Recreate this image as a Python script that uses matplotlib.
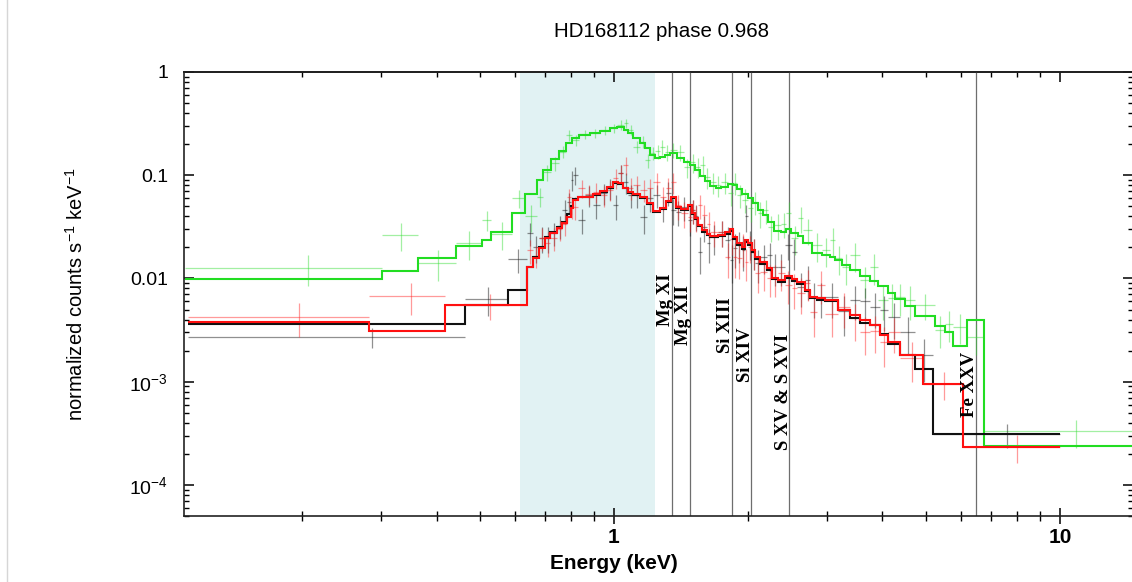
import matplotlib.pyplot as plt
import numpy as np
from matplotlib.lines import Line2D
from matplotlib.ticker import FixedLocator, FixedFormatter, LogLocator, NullFormatter
from matplotlib.transforms import offset_copy

plt.rcParams['font.family'] = ['Liberation Sans', 'DejaVu Sans']
plt.rcParams['mathtext.fontset'] = 'custom'
plt.rcParams['mathtext.rm'] = 'Liberation Sans'
plt.rcParams['mathtext.it'] = 'Liberation Sans:italic'
plt.rcParams['mathtext.bf'] = 'Liberation Sans:bold'

# green spectrum: bin edges (keV), model, data, 1-sigma error
g_edges = [0.109, 0.302, 0.363, 0.442, 0.506, 0.530, 0.590, 0.632, 0.672, 0.693,
           0.722, 0.753, 0.781, 0.805, 0.835, 0.884, 0.930, 0.979, 1.016, 1.053,
           1.075, 1.103, 1.144, 1.174, 1.204, 1.236, 1.268, 1.301, 1.335, 1.384,
           1.435, 1.48, 1.52, 1.56, 1.60, 1.64, 1.69, 1.74, 1.80, 1.85,
           1.89, 1.94, 2.00, 2.05, 2.10, 2.16, 2.22, 2.29, 2.37, 2.43,
           2.50, 2.58, 2.66, 2.78, 2.93, 3.05, 3.13, 3.25, 3.38, 3.56,
           3.75, 3.91, 4.12, 4.27, 4.49, 4.73, 5.25, 5.52, 5.76, 6.19,
           6.75, 15.0]
g_model = [0.0099, 0.0118, 0.0158, 0.0206, 0.0236, 0.0282, 0.0430, 0.0658, 0.0898, 0.112,
           0.144, 0.172, 0.205, 0.229, 0.245, 0.256, 0.268, 0.287, 0.293, 0.274,
           0.256, 0.229, 0.205, 0.184, 0.157, 0.147, 0.150, 0.157, 0.164, 0.147,
           0.134, 0.126, 0.112, 0.098, 0.088, 0.079, 0.075, 0.077, 0.082, 0.080,
           0.0735, 0.0658, 0.060, 0.054, 0.046, 0.041, 0.035, 0.0288, 0.0282, 0.0301,
           0.0275, 0.0258, 0.0220, 0.0176, 0.0169, 0.0161, 0.0151, 0.0135, 0.0121, 0.0105,
           0.0094, 0.0084, 0.0072, 0.0063, 0.0054, 0.0043, 0.0035, 0.0030, 0.0022, 0.0040,
           0.00024]
g_data = [0.0126, 0.0263, 0.0141, 0.0220, 0.037, 0.027, 0.060, 0.040, 0.062, 0.107,
          0.131, 0.168, 0.245, 0.219, 0.250, 0.256, 0.274, 0.287, 0.307, 0.320,
          0.274, 0.188, 0.210, 0.140, 0.164, 0.170, 0.188, 0.168, 0.176, 0.168,
          0.120, 0.134, 0.120, 0.126, 0.096, 0.086, 0.080, 0.086, 0.067, 0.084,
          0.064, 0.058, 0.048, 0.055, 0.043, 0.046, 0.0315, 0.033, 0.034, 0.043,
          0.0245, 0.0385, 0.0294, 0.021, 0.0188, 0.0236, 0.0158, 0.0129, 0.0168, 0.0097,
          0.0129, 0.0062, 0.0065, 0.0066, 0.0062, 0.0055, 0.0032, 0.0036, 0.0034, 0.0027,
          0.00033]
g_err = [0.0042, 0.008, 0.0046, 0.0068, 0.008, 0.008, 0.012, 0.012, 0.013, 0.02,
         0.02, 0.022, 0.03, 0.025, 0.025, 0.025, 0.028, 0.03, 0.032, 0.034,
         0.03, 0.025, 0.028, 0.022, 0.025, 0.026, 0.03, 0.03, 0.03, 0.03,
         0.025, 0.028, 0.026, 0.028, 0.022, 0.02, 0.019, 0.02, 0.017, 0.02,
         0.016, 0.015, 0.013, 0.014, 0.012, 0.012, 0.009, 0.0095, 0.0095, 0.012,
         0.0075, 0.011, 0.0085, 0.0065, 0.006, 0.007, 0.005, 0.0042, 0.0052, 0.0033,
         0.0042, 0.0022, 0.0023, 0.0023, 0.0022, 0.0015, 0.0011, 0.0012, 0.0011, 0.0009,
         0.0001]

# red spectrum
r_edges = [0.111, 0.282, 0.418, 0.638, 0.658, 0.679, 0.700, 0.719, 0.745, 0.765,
           0.785, 0.801, 0.809, 0.830, 0.862, 0.897, 0.930, 0.965, 0.995, 1.021,
           1.048, 1.075, 1.103, 1.144, 1.186, 1.223, 1.268, 1.308, 1.342, 1.377,
           1.413, 1.465, 1.496, 1.519, 1.543, 1.575, 1.616, 1.642, 1.711, 1.774,
           1.820, 1.849, 1.887, 1.936, 1.967, 1.997, 2.039, 2.071, 2.125, 2.203,
           2.261, 2.332, 2.417, 2.506, 2.572, 2.681, 2.751, 2.852, 2.973, 3.178,
           3.382, 3.561, 3.750, 3.948, 4.115, 4.378, 4.928, 6.061, 10.0]
r_model = [0.00378, 0.00309, 0.00553, 0.0129, 0.0158, 0.0197, 0.0246, 0.0275, 0.0308, 0.0344,
           0.0394, 0.0481, 0.0575, 0.0615, 0.0615, 0.0657, 0.0703, 0.0769, 0.0859, 0.0840,
           0.0752, 0.0687, 0.0657, 0.0615, 0.0538, 0.0450, 0.0481, 0.0562, 0.0615, 0.0492,
           0.0470, 0.0514, 0.0430, 0.0385, 0.0329, 0.0294, 0.0269, 0.0258, 0.0263, 0.0282,
           0.0301, 0.0252, 0.0220, 0.0201, 0.0236, 0.0220, 0.0188, 0.0161, 0.0144, 0.0126,
           0.0101, 0.00965, 0.01055, 0.00987, 0.00923, 0.00772, 0.00660, 0.00646, 0.00618, 0.00494,
           0.00442, 0.00395, 0.00354, 0.00283, 0.00242, 0.00181, 0.000948, 0.000232]
r_data = [0.00423, 0.00675, 0.00553, 0.0188, 0.0165, 0.0246, 0.022, 0.0246, 0.030, 0.034,
          0.0615, 0.050, 0.049, 0.075, 0.066, 0.0687, 0.064, 0.072, 0.094, 0.105,
          0.126, 0.075, 0.080, 0.072, 0.075, 0.086, 0.0615, 0.076, 0.086, 0.051,
          0.043, 0.039, 0.046, 0.039, 0.051, 0.041, 0.034, 0.028, 0.028, 0.0161,
          0.024, 0.0161, 0.0158, 0.020, 0.0144, 0.020, 0.018, 0.0113, 0.0115, 0.0101,
          0.0101, 0.0113, 0.0087, 0.0081, 0.0073, 0.0090, 0.0047, 0.0087, 0.0045, 0.0053,
          0.0041, 0.0030, 0.0031, 0.0024, 0.0030, 0.0017, 0.00095, 0.000232]
r_err = [0.0015, 0.0023, 0.0016, 0.005, 0.004, 0.006, 0.006, 0.006, 0.007, 0.008,
         0.012, 0.012, 0.012, 0.015, 0.014, 0.015, 0.015, 0.016, 0.02, 0.022,
         0.025, 0.018, 0.018, 0.017, 0.017, 0.02, 0.016, 0.018, 0.02, 0.014,
         0.012, 0.011, 0.012, 0.011, 0.013, 0.011, 0.01, 0.008, 0.008, 0.006,
         0.007, 0.006, 0.006, 0.007, 0.005, 0.006, 0.006, 0.004, 0.004, 0.0035,
         0.0035, 0.0038, 0.003, 0.003, 0.0028, 0.003, 0.002, 0.003, 0.0018, 0.002,
         0.0016, 0.0012, 0.0012, 0.001, 0.0011, 0.0007, 0.00028, 0.00007]

# black spectrum
b_edges = [0.111, 0.463, 0.578, 0.638, 0.658, 0.679, 0.700, 0.719, 0.745, 0.765,
           0.785, 0.801, 0.809, 0.830, 0.862, 0.897, 0.930, 0.965, 0.995, 1.021,
           1.048, 1.075, 1.103, 1.144, 1.186, 1.223, 1.268, 1.308, 1.342, 1.377,
           1.413, 1.465, 1.496, 1.519, 1.543, 1.575, 1.616, 1.642, 1.711, 1.774,
           1.820, 1.849, 1.887, 1.936, 1.967, 1.997, 2.039, 2.071, 2.125, 2.203,
           2.261, 2.332, 2.417, 2.506, 2.572, 2.681, 2.751, 2.852, 2.973, 3.178,
           3.382, 3.561, 3.750, 3.948, 4.115, 4.378, 4.730, 5.190, 10.0]
b_model = [0.00365, 0.00553, 0.00772, 0.0130, 0.0160, 0.0200, 0.0250, 0.0280, 0.0315, 0.0350,
           0.0420, 0.0500, 0.0585, 0.0620, 0.0610, 0.0650, 0.0695, 0.0760, 0.0850, 0.0830,
           0.0745, 0.0680, 0.0650, 0.0605, 0.0530, 0.0445, 0.0475, 0.0555, 0.0605, 0.0485,
           0.0465, 0.0505, 0.0420, 0.0375, 0.0320, 0.0285, 0.0262, 0.0250, 0.0255, 0.0272,
           0.0290, 0.0243, 0.0212, 0.0195, 0.0225, 0.0210, 0.0180, 0.0155, 0.0139, 0.0122,
           0.0098, 0.0093, 0.0102, 0.0095, 0.0089, 0.0075, 0.0064, 0.0062, 0.0060, 0.00494,
           0.00413, 0.00371, 0.00354, 0.00289, 0.00231, 0.00181, 0.00133, 0.00031]
b_data = [0.0027, 0.0063, 0.0154, 0.0275, 0.020, 0.0246, 0.0246, 0.0275, 0.032, 0.046,
          0.055, 0.090, 0.10, 0.037, 0.064, 0.051, 0.067, 0.075, 0.051, 0.105,
          0.086, 0.064, 0.064, 0.039, 0.060, 0.064, 0.048, 0.068, 0.046, 0.044,
          0.049, 0.037, 0.046, 0.040, 0.018, 0.0315, 0.022, 0.025, 0.028, 0.0236,
          0.015, 0.0197, 0.021, 0.0188, 0.040, 0.022, 0.018, 0.014, 0.0161, 0.0169,
          0.0129, 0.0129, 0.0211, 0.018, 0.0083, 0.0097, 0.0066, 0.0066, 0.0066, 0.0048,
          0.0062, 0.0060, 0.0053, 0.0049, 0.0042, 0.0030, 0.0018, 0.00031]
b_err = [0.0006, 0.002, 0.004, 0.007, 0.006, 0.007, 0.007, 0.007, 0.008, 0.012,
         0.013, 0.02, 0.02, 0.01, 0.015, 0.013, 0.016, 0.017, 0.014, 0.022,
         0.02, 0.016, 0.016, 0.012, 0.016, 0.016, 0.013, 0.018, 0.013, 0.012,
         0.013, 0.011, 0.012, 0.011, 0.007, 0.009, 0.008, 0.008, 0.008, 0.008,
         0.006, 0.007, 0.007, 0.007, 0.012, 0.007, 0.006, 0.005, 0.005, 0.005,
         0.0045, 0.0045, 0.006, 0.006, 0.003, 0.0035, 0.0025, 0.0025, 0.0025, 0.002,
         0.0022, 0.002, 0.002, 0.0018, 0.0016, 0.0012, 0.0008, 0.00008]

# line identifications
line_energies = [1.349, 1.48, 1.839, 2.029, 2.469, 6.48]
line_labels = ['Mg XI', 'Mg XII', 'Si XIII', 'Si XIV', 'S XV & S XVI', 'Fe XXV']
label_y = [3.5e-3, 2.25e-3, 1.9e-3, 9.9e-4, 2.17e-4, 4.5e-4]
band = (0.615, 1.236)

fig = plt.figure(figsize=(11.32, 5.82), dpi=100)
ax = fig.add_axes([184/1132, 66/582, 949/1132, 444/582])
ax.set_xscale('log')
ax.set_yscale('log')
ax.set_xlim(0.1086, 14.58)
ax.set_ylim(5.0e-5, 1.0)

ax.axvspan(band[0], band[1], color='#e1f2f3', lw=0, zorder=0)
for e in line_energies:
    ax.axvline(e, color='#6e6e6e', lw=0.9, zorder=1)

spectra = [
    (g_edges, g_model, g_data, g_err, '#22dd22', '#33dd33', 0.45),
    (b_edges, b_model, b_data, b_err, '#111111', '#222222', 0.5),
    (r_edges, r_model, r_data, r_err, '#ff1010', '#ff2020', 0.45),
]
for edges, model, data, err, mc, dc, a in spectra:
    edges = np.array(edges)
    centers = 0.5 * (edges[1:] + edges[:-1])
    half = 0.5 * (edges[1:] - edges[:-1])
    ax.errorbar(centers, data, xerr=half, yerr=err, fmt='none',
                ecolor=dc, elinewidth=0.9, alpha=a, capsize=0, zorder=2)
    ax.stairs(model, edges, baseline=None, color=mc, lw=1.5, zorder=3)

serif = offset_copy(ax.transData, fig=fig, x=-1.5, y=0, units='dots')
for e, lab, yy in zip(line_energies, line_labels, label_y):
    ax.text(e, yy, lab, transform=serif, rotation=90, rotation_mode='anchor',
            ha='left', va='baseline', fontsize=13.5, fontweight='bold',
            family=['Liberation Serif', 'DejaVu Serif'], zorder=4)

# ticks
ax.xaxis.set_major_locator(FixedLocator([1, 10]))
ax.xaxis.set_major_formatter(FixedFormatter(['1', '10']))
ax.xaxis.set_minor_locator(LogLocator(base=10, subs=np.arange(2, 10)))
ax.xaxis.set_minor_formatter(NullFormatter())
ax.yaxis.set_major_locator(FixedLocator([1e-4, 1e-3, 1e-2, 0.1, 1]))
ax.yaxis.set_major_formatter(FixedFormatter([r'$10^{-4}$', r'$10^{-3}$', '0.01', '0.1', '1']))
ax.yaxis.set_minor_locator(LogLocator(base=10, subs=np.arange(2, 10)))
ax.yaxis.set_minor_formatter(NullFormatter())

ax.tick_params(axis='x', which='major', direction='inout', length=11, width=1.1,
               pad=3, labelsize=15, top=False)
ax.tick_params(axis='x', which='minor', direction='inout', length=6.5, width=1.0, top=False)
for lab in ax.get_xticklabels():
    lab.set_fontweight('bold')
ax.tick_params(axis='y', which='major', direction='in', length=7, width=1.1,
               pad=11.5, labelsize=14, right=True)
ax.tick_params(axis='y', which='minor', direction='in', length=3.6, width=1.0, right=True)

top = ax.secondary_xaxis('top')
top.xaxis.set_major_locator(FixedLocator([1, 10]))
top.xaxis.set_minor_locator(LogLocator(base=10, subs=np.arange(2, 10)))
top.xaxis.set_major_formatter(NullFormatter())
top.xaxis.set_minor_formatter(NullFormatter())
top.tick_params(which='major', direction='in', length=7, width=1.1)
top.tick_params(which='minor', direction='in', length=3.6, width=1.0)
top.spines['top'].set_linewidth(1.2)

for s in ax.spines.values():
    s.set_linewidth(1.2)
    s.set_color('#222222')

fig.text(661/1132, 1 - 37/582, 'HD168112 phase 0.968', ha='center', va='baseline',
         fontsize=14.8)
fig.text(614/1132, 1 - 569/582, 'Energy (keV)', ha='center', va='baseline',
         fontsize=15, fontweight='bold')
fig.text(76/1132, 1 - 294/582, r'normalized counts s$^{-1}$ keV$^{-1}$', rotation=90,
         ha='center', va='center', fontsize=14.5)

fig.add_artist(Line2D([7/1132, 7/1132], [0, 1], color='#d6d6d6', lw=1.0,
                      transform=fig.transFigure))

fig.savefig('out.png', dpi=100)
